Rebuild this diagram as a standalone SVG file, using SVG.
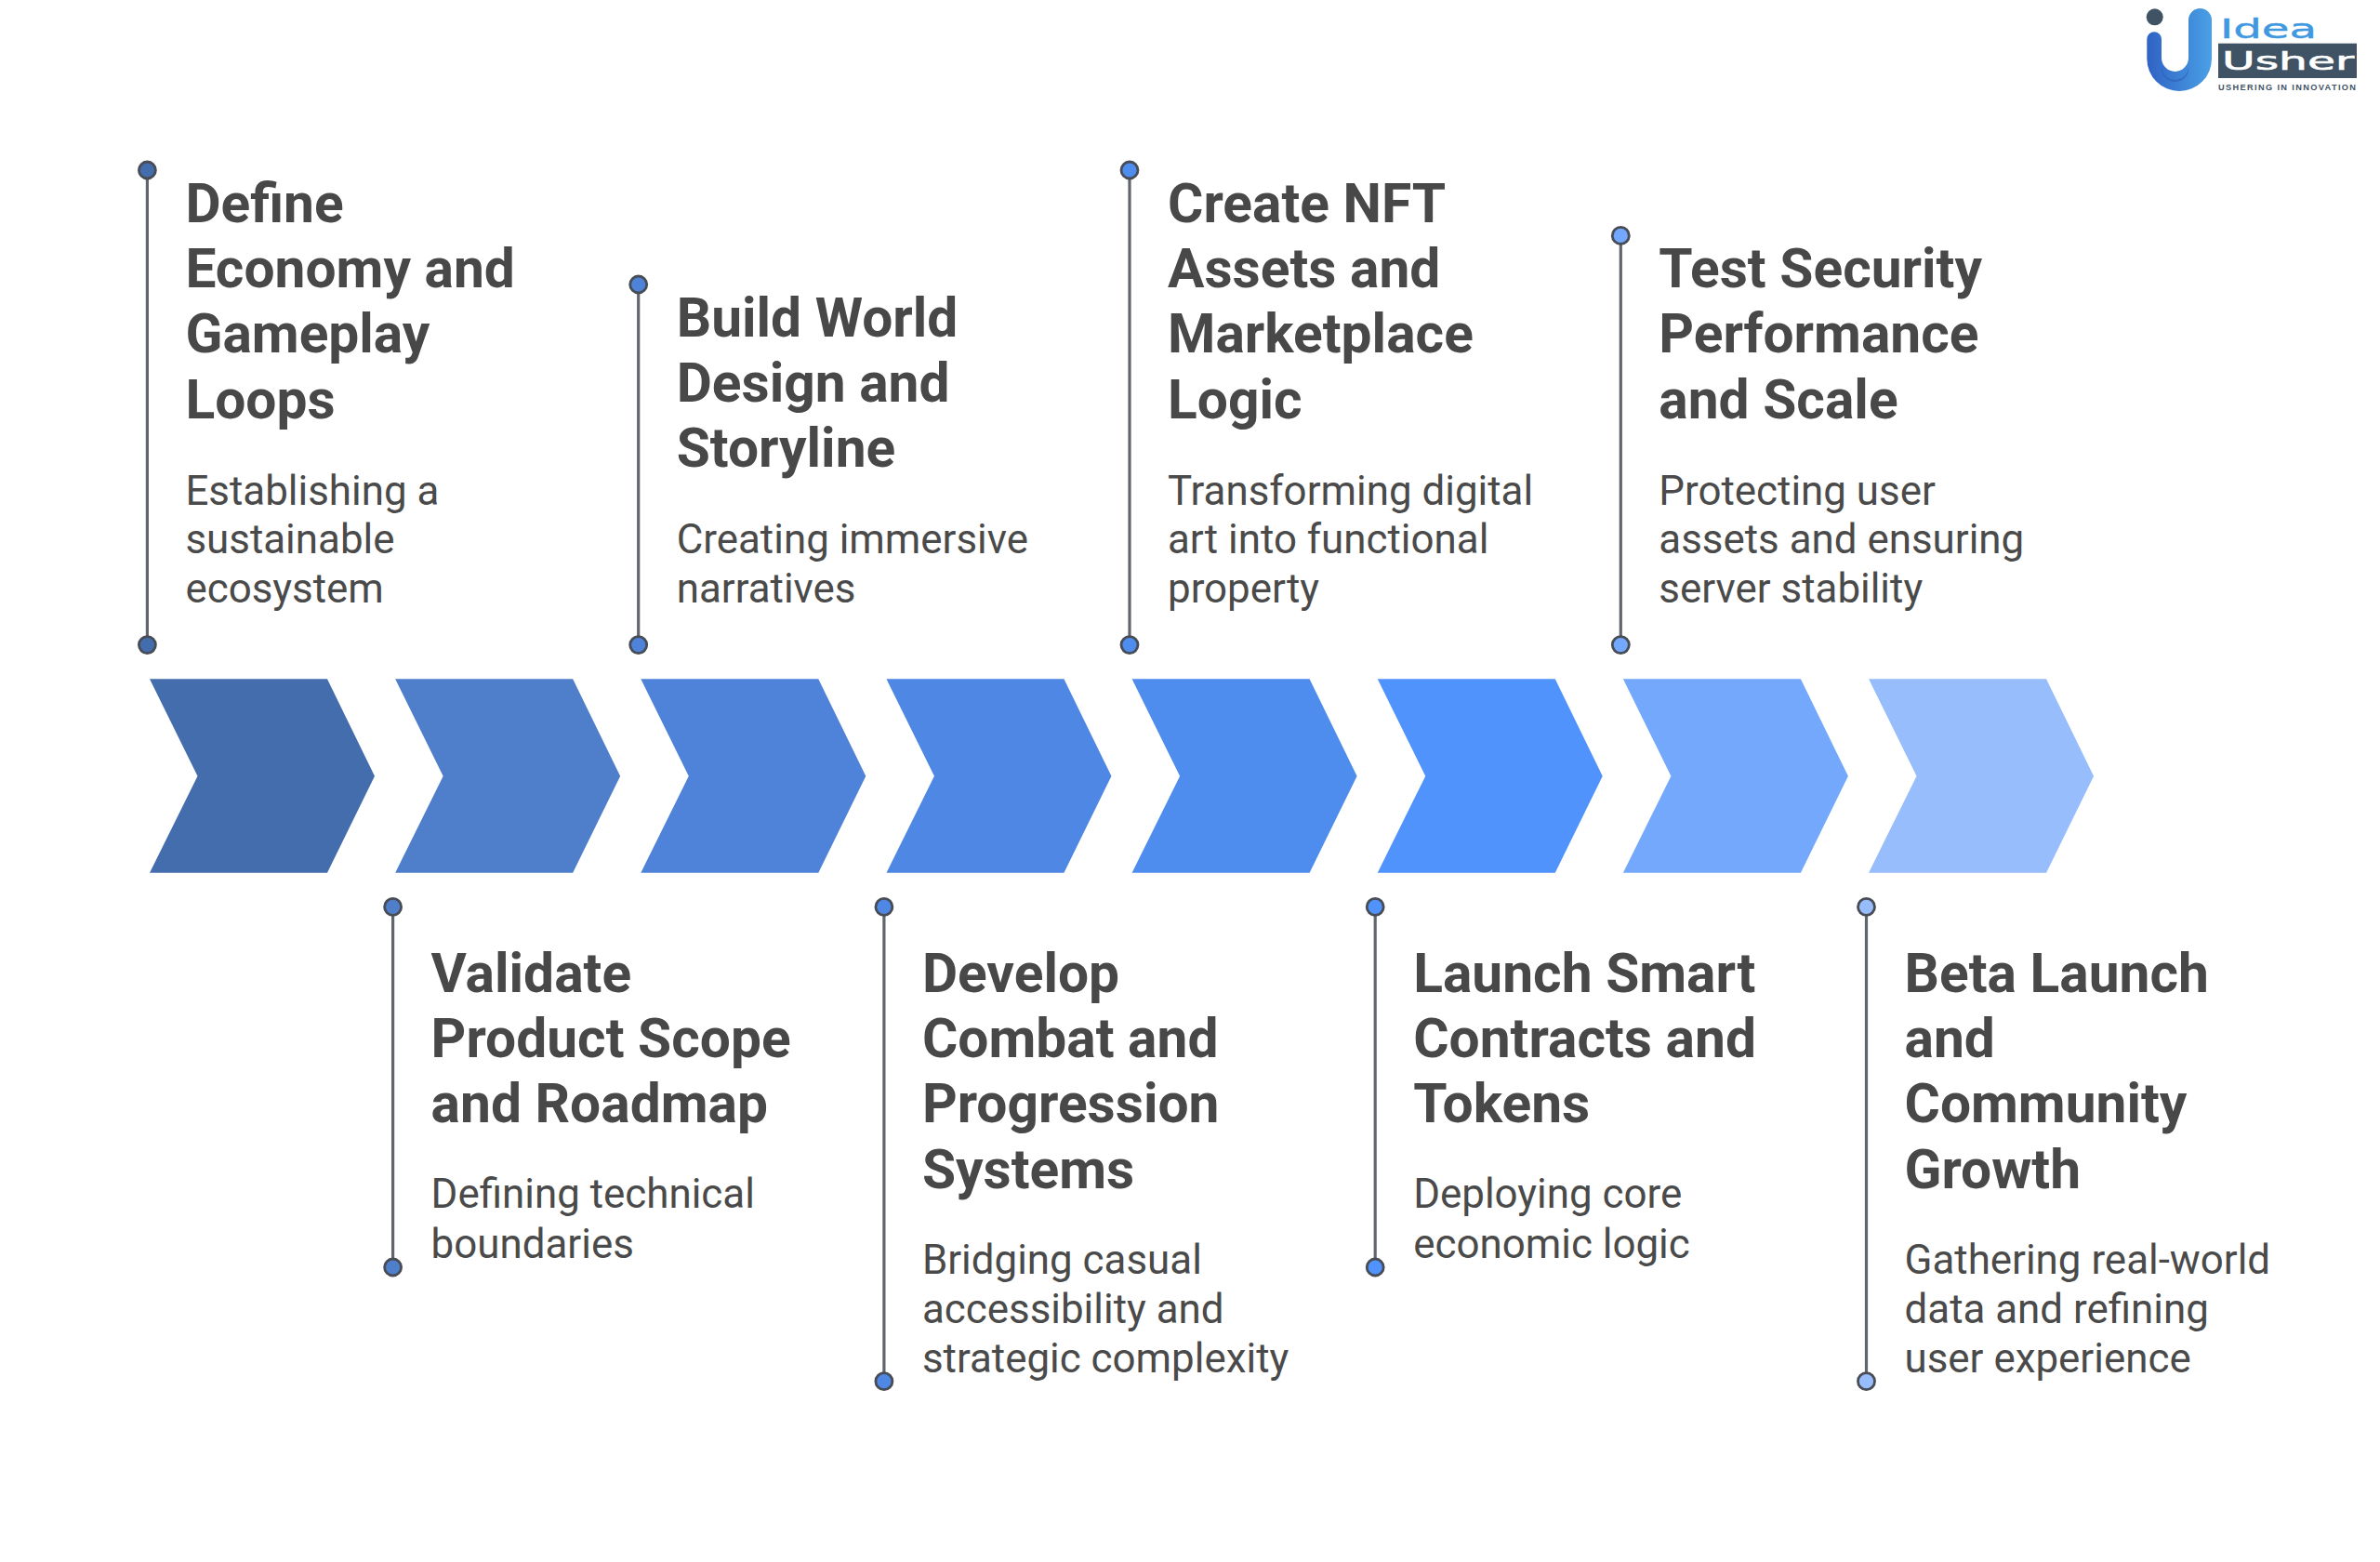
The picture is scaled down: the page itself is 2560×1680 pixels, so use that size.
<svg xmlns="http://www.w3.org/2000/svg" width="2560" height="1680" viewBox="0 0 2560 1680">
<defs>
<style>
.h{font-family:Roboto,"Liberation Sans",sans-serif;font-weight:700;font-size:58.7px;fill:#484848}
.d{font-family:Roboto,"Liberation Sans",sans-serif;font-weight:400;font-size:43.9px;fill:#4a4a4a}
.l{stroke:#62666c;stroke-width:3.2;fill:none}
.c{stroke:#474c55;stroke-width:2.8}
</style>
<polygon id="chev" points="161,730.3 352,730.3 403,834.7 352,938.7 161,938.7 212.5,834.7"/>
<linearGradient id="ug" x1="0" y1="0" x2="1" y2="0"><stop offset="0" stop-color="#2f62c4"/><stop offset="1" stop-color="#4aa0e6"/></linearGradient>
</defs>
<rect width="2560" height="1680" fill="#fff"/>
<g id="logo">
<circle cx="2317.7" cy="18.3" r="9" fill="#3f5364"/>
<path d="M2309.3 42a7.85 7.85 0 0 1 15.7 0V62a14.5 15 0 0 0 29 0V21.5a12.5 12.5 0 0 1 25 0V63a34.85 35 0 0 1-69.7 0Z" fill="url(#ug)"/>
<path d="M2325 68a15 15 0 0 0 29 0V62a14.5 15 0 0 1-29 0Z" fill="#2c5bb5" transform="translate(0 9)" opacity="0.55"/>
<text x="2388" y="40.7" font-family="DejaVu Sans" font-size="27.5" fill="#4099e0" stroke="#4099e0" stroke-width="0.4" textLength="104" lengthAdjust="spacingAndGlyphs">Idea</text>
<rect x="2386" y="46.7" width="149" height="37.3" fill="#3f5364"/>
<text x="2390" y="74.5" font-family="DejaVu Sans" font-size="27" fill="#fff" stroke="#fff" stroke-width="0.6" textLength="142" lengthAdjust="spacingAndGlyphs">Usher</text>
<text x="2386" y="97.3" font-family="Liberation Sans" font-weight="700" font-size="9.2" fill="#3f5364" textLength="148" lengthAdjust="spacing">USHERING IN INNOVATION</text>
</g>
<g id="chevrons">
<use id="chevron1" href="#chev" fill="#446dae"/>
<use id="chevron2" href="#chev" x="264.15" fill="#4f7fcb"/>
<use id="chevron3" href="#chev" x="528.3" fill="#4f82d9"/>
<use id="chevron4" href="#chev" x="792.45" fill="#4e87e4"/>
<use id="chevron5" href="#chev" x="1056.6" fill="#4e8dee"/>
<use id="chevron6" href="#chev" x="1320.75" fill="#5093fd"/>
<use id="chevron7" href="#chev" x="1584.9" fill="#73a8fc"/>
<use id="chevron8" href="#chev" x="1849.05" fill="#98bdfd"/>
</g>
<g id="connectors">
<line class="l" x1="158.4" y1="183" x2="158.4" y2="693.6"/>
<line class="l" x1="422.6" y1="975.4" x2="422.6" y2="1363"/>
<line class="l" x1="686.7" y1="306" x2="686.7" y2="693.6"/>
<line class="l" x1="950.9" y1="975.4" x2="950.9" y2="1485.7"/>
<line class="l" x1="1215" y1="183" x2="1215" y2="693.6"/>
<line class="l" x1="1479.2" y1="975.4" x2="1479.2" y2="1363"/>
<line class="l" x1="1743.3" y1="253.4" x2="1743.3" y2="693.6"/>
<line class="l" x1="2007.5" y1="975.4" x2="2007.5" y2="1485.7"/>
</g>
<g id="node1"><circle class="c" cx="158.4" cy="183" r="9" fill="#446dae"/><circle class="c" cx="158.4" cy="693.6" r="9" fill="#446dae"/>
<text class="h"><tspan x="199.4" y="238.5">Define</tspan><tspan x="199.4" y="308.9">Economy and</tspan><tspan x="199.4" y="379.3">Gameplay</tspan><tspan x="199.4" y="449.7">Loops</tspan></text>
<text class="d"><tspan x="199.4" y="542.6">Establishing a</tspan><tspan x="199.4" y="595.3">sustainable</tspan><tspan x="199.4" y="647.6">ecosystem</tspan></text></g>
<g id="node2"><circle class="c" cx="422.6" cy="975.4" r="9" fill="#4f7fcb"/><circle class="c" cx="422.6" cy="1363" r="9" fill="#4f7fcb"/>
<text class="h"><tspan x="463.6" y="1066.6">Validate</tspan><tspan x="463.6" y="1137">Product Scope</tspan><tspan x="463.6" y="1207.4">and Roadmap</tspan></text>
<text class="d"><tspan x="463.6" y="1299.4">Defining technical</tspan><tspan x="463.6" y="1352.6">boundaries</tspan></text></g>
<g id="node3"><circle class="c" cx="686.7" cy="306" r="9" fill="#4f82d9"/><circle class="c" cx="686.7" cy="693.6" r="9" fill="#4f82d9"/>
<text class="h"><tspan x="727.7" y="361.6">Build World</tspan><tspan x="727.7" y="432">Design and</tspan><tspan x="727.7" y="502.4">Storyline</tspan></text>
<text class="d"><tspan x="727.7" y="595.3">Creating immersive</tspan><tspan x="727.7" y="647.6">narratives</tspan></text></g>
<g id="node4"><circle class="c" cx="950.9" cy="975.4" r="9" fill="#4e87e4"/><circle class="c" cx="950.9" cy="1485.7" r="9" fill="#4e87e4"/>
<text class="h"><tspan x="991.9" y="1066.6">Develop</tspan><tspan x="991.9" y="1137">Combat and</tspan><tspan x="991.9" y="1207.4">Progression</tspan><tspan x="991.9" y="1277.8">Systems</tspan></text>
<text class="d"><tspan x="991.9" y="1370.2">Bridging casual</tspan><tspan x="991.9" y="1422.9">accessibility and</tspan><tspan x="991.9" y="1475.8">strategic complexity</tspan></text></g>
<g id="node5"><circle class="c" cx="1215" cy="183" r="9" fill="#4e8dee"/><circle class="c" cx="1215" cy="693.6" r="9" fill="#4e8dee"/>
<text class="h"><tspan x="1256" y="238.5">Create NFT</tspan><tspan x="1256" y="308.9">Assets and</tspan><tspan x="1256" y="379.3">Marketplace</tspan><tspan x="1256" y="449.7">Logic</tspan></text>
<text class="d"><tspan x="1256" y="542.6">Transforming digital</tspan><tspan x="1256" y="595.3">art into functional</tspan><tspan x="1256" y="647.6">property</tspan></text></g>
<g id="node6"><circle class="c" cx="1479.2" cy="975.4" r="9" fill="#5093fd"/><circle class="c" cx="1479.2" cy="1363" r="9" fill="#5093fd"/>
<text class="h"><tspan x="1520.2" y="1066.6">Launch Smart</tspan><tspan x="1520.2" y="1137">Contracts and</tspan><tspan x="1520.2" y="1207.4">Tokens</tspan></text>
<text class="d"><tspan x="1520.2" y="1299.4">Deploying core</tspan><tspan x="1520.2" y="1352.6">economic logic</tspan></text></g>
<g id="node7"><circle class="c" cx="1743.3" cy="253.4" r="9" fill="#73a8fc"/><circle class="c" cx="1743.3" cy="693.6" r="9" fill="#73a8fc"/>
<text class="h"><tspan x="1784.3" y="308.9">Test Security</tspan><tspan x="1784.3" y="379.3">Performance</tspan><tspan x="1784.3" y="449.7">and Scale</tspan></text>
<text class="d"><tspan x="1784.3" y="542.6">Protecting user</tspan><tspan x="1784.3" y="595.3">assets and ensuring</tspan><tspan x="1784.3" y="647.6">server stability</tspan></text></g>
<g id="node8"><circle class="c" cx="2007.5" cy="975.4" r="9" fill="#98bdfd"/><circle class="c" cx="2007.5" cy="1485.7" r="9" fill="#98bdfd"/>
<text class="h"><tspan x="2048.5" y="1066.6">Beta Launch</tspan><tspan x="2048.5" y="1137">and</tspan><tspan x="2048.5" y="1207.4">Community</tspan><tspan x="2048.5" y="1277.8">Growth</tspan></text>
<text class="d"><tspan x="2048.5" y="1370.2">Gathering real-world</tspan><tspan x="2048.5" y="1422.9">data and refining</tspan><tspan x="2048.5" y="1475.8">user experience</tspan></text></g>
</svg>
